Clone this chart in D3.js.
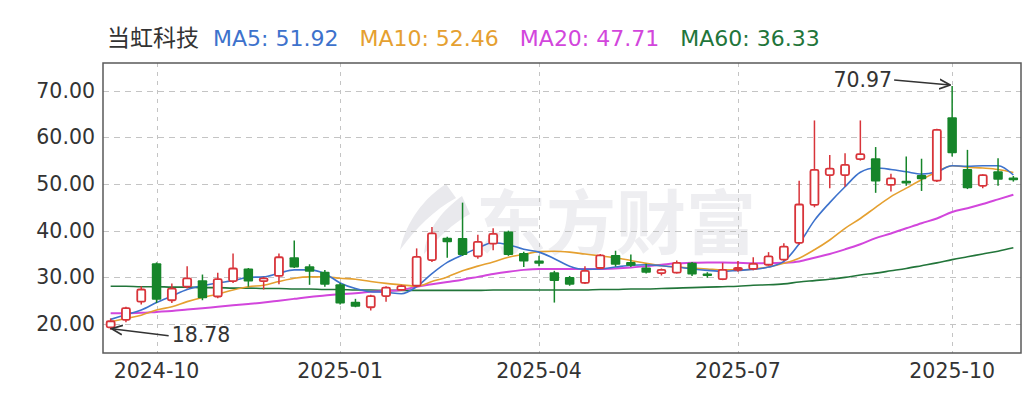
<!DOCTYPE html>
<html>
<head>
<meta charset="utf-8">
<script src="https://cdn.jsdelivr.net/npm/d3@7"></script>
<style>
  body { margin: 0; background: #fff; }
  text { font-family: "DejaVu Sans", sans-serif; }
</style>
</head>
<body>
<script>
// weekly candles, last trading day of each week
const weeks = [
  "2024-09-20","2024-09-27","2024-09-30","2024-10-11","2024-10-18","2024-10-25","2024-11-01","2024-11-08",
  "2024-11-15","2024-11-22","2024-11-29","2024-12-06","2024-12-13","2024-12-20","2024-12-27","2025-01-03",
  "2025-01-10","2025-01-17","2025-01-24","2025-01-27","2025-02-07","2025-02-14","2025-02-21","2025-02-28",
  "2025-03-07","2025-03-14","2025-03-21","2025-03-28","2025-04-03","2025-04-11","2025-04-18","2025-04-25",
  "2025-04-30","2025-05-09","2025-05-16","2025-05-23","2025-05-30","2025-06-06","2025-06-13","2025-06-20",
  "2025-06-27","2025-07-04","2025-07-11","2025-07-18","2025-07-25","2025-08-01","2025-08-08","2025-08-15",
  "2025-08-22","2025-08-29","2025-09-05","2025-09-12","2025-09-19","2025-09-26","2025-09-30","2025-10-10",
  "2025-10-17","2025-10-24","2025-10-31","2025-11-07"
];
const open = [
  19.3,20.9,24.8,33.0,25.1,28.0,29.4,25.9,29.2,31.9,29.2,30.3,34.3,32.4,31.2,28.5,
  24.8,23.6,26.0,27.3,28.2,33.7,38.5,38.4,34.5,37.2,39.8,35.2,33.6,31.1,30.1,28.8,
  32.0,34.8,33.3,32.1,30.9,31.0,33.1,30.8,29.6,31.6,31.8,32.7,33.8,37.4,45.5,51.9,
  51.9,55.3,55.5,49.8,50.7,51.9,50.7,64.3,53.2,49.6,52.7,51.4
];
const high = [
  21.2,23.7,28.1,33.2,28.7,32.4,30.6,31.0,35.1,32.0,30.1,35.1,37.9,32.8,31.6,28.8,
  25.4,26.3,28.1,28.4,36.2,40.8,38.7,46.0,39.1,40.5,40.0,35.5,34.6,31.4,30.3,32.4,
  35.0,35.7,34.9,32.9,31.9,33.6,33.3,31.1,33.1,33.5,34.3,35.4,37.3,50.7,63.6,56.2,
  56.6,63.6,57.9,52.2,55.9,55.4,61.8,70.97,57.3,52.1,55.5,51.7
];
const low = [
  18.78,20.4,24.2,24.5,24.5,27.6,25.1,25.5,28.8,28.0,27.4,28.5,32.0,28.4,28.0,24.2,
  23.6,22.9,24.8,27.1,27.9,33.3,34.2,34.6,34.0,35.8,34.6,32.2,32.4,24.6,28.2,28.6,
  31.8,32.3,32.2,30.8,30.4,30.8,30.3,29.9,29.4,31.2,31.5,32.5,33.5,37.0,45.0,49.1,
  49.4,55.0,48.1,48.4,49.6,48.5,50.4,55.9,48.9,49.1,49.6,50.5
];
const close = [
  20.6,23.4,27.4,25.2,27.6,29.8,25.5,29.6,31.9,29.1,29.8,34.3,32.1,31.2,28.4,24.4,
  23.7,26.0,27.8,28.1,34.4,39.4,37.5,34.8,37.6,39.3,34.8,33.4,32.9,29.2,28.4,31.4,
  34.7,32.7,32.5,31.0,31.6,33.1,30.6,30.3,31.6,32.0,32.9,34.5,36.6,45.6,53.0,53.3,
  54.1,56.4,50.5,51.2,50.1,51.0,61.6,56.6,49.1,51.9,50.9,50.8
];
const ma5 = [
  21.0,22.0,23.0,24.6,26.0,27.4,28.2,28.8,29.3,30.0,30.1,30.9,31.6,31.6,30.8,28.8,
  27.6,26.9,26.8,26.5,28.0,30.8,33.2,34.8,36.3,37.4,37.0,36.0,35.4,34.0,32.4,31.7,
  31.8,32.2,32.6,32.7,32.5,32.2,31.8,31.5,31.3,31.5,31.7,32.2,33.4,37.2,42.2,46.0,
  49.4,52.5,53.4,53.1,52.6,52.1,52.6,53.9,53.8,53.9,53.9,51.92
];
const ma10 = [
  20.5,21.2,21.9,23.0,23.7,24.8,25.7,26.4,27.3,28.0,28.3,29.1,29.8,30.1,30.1,29.8,
  29.6,29.1,28.7,28.4,28.1,29.1,30.1,31.4,32.4,33.3,34.3,34.9,35.5,35.6,35.4,35.0,
  34.6,34.2,33.6,33.0,32.5,32.2,32.0,31.8,31.6,31.6,31.8,32.2,33.0,34.1,35.9,38.0,
  40.5,42.6,45.0,47.3,49.1,50.9,52.6,53.9,53.6,53.4,53.1,52.46
];
const ma20 = [
  22.3,22.3,22.4,22.6,22.8,23.1,23.4,23.7,24.0,24.3,24.6,25.0,25.4,25.8,26.1,26.4,
  26.6,26.9,27.1,27.3,28.0,28.5,29.0,29.5,30.1,30.7,31.2,31.6,31.8,31.8,31.8,31.8,
  31.8,31.9,32.1,32.4,32.7,33.0,33.1,33.2,33.2,33.1,33.0,33.0,33.1,33.4,34.2,35.0,
  36.0,37.1,38.4,39.4,40.5,41.6,42.6,44.0,44.8,45.7,46.7,47.71
];
const ma60 = [
  28.1,28.1,28.0,28.0,27.9,27.9,27.8,27.8,27.7,27.7,27.6,27.6,27.5,27.5,27.4,27.4,
  27.3,27.3,27.2,27.2,27.2,27.2,27.2,27.2,27.2,27.3,27.3,27.3,27.3,27.3,27.3,27.3,
  27.4,27.4,27.5,27.5,27.6,27.7,27.8,27.9,28.0,28.1,28.3,28.4,28.6,29.0,29.3,29.6,
  30.0,30.5,30.9,31.4,31.9,32.5,33.1,33.8,34.4,35.0,35.6,36.33
];
const stockName = "当虹科技";
const maNames = ["MA5", "MA10", "MA20", "MA60"];
const maColors = ["#3d72cc", "#e5a030", "#d246dc", "#22753a"];
const tickLabels = ["2024-10", "2025-01", "2025-04", "2025-07", "2025-10"];
const yTicks = [20, 30, 40, 50, 60, 70];

const upColor = "#d8343a";
const downColor = "#16852a";

const W = 1030, H = 396;
const margin = {top: 63, right: 9, bottom: 43, left: 103};

const svg = d3.select("body").append("svg")
  .attr("width", W)
  .attr("height", H);

const x = d3.scaleBand()
  .domain(weeks)
  .range([margin.left, W - margin.right])
  .paddingInner(0.38)
  .paddingOuter(0.19);

const y = d3.scaleLinear()
  .domain([13.8, 75.9])
  .range([H - margin.bottom, margin.top]);

const cx = (d) => x(d) + x.bandwidth() / 2;

// watermark
const wm = svg.append("g").attr("fill", "#eeeef1");
wm.append("path")
  .attr("d", "M446,184 C424,198 406,222 400,250 C416,228 434,210 456,198 Z M462,196 C440,212 426,232 424,254 C440,236 452,224 470,214 Z")
  .attr("fill", "#e9e9ed");
wm.append("text")
  .attr("x", 476)
  .attr("y", 249)
  .style("font-family", "'Noto Sans CJK SC', sans-serif")
  .style("font-weight", 700)
  .style("font-size", "70px")
  .text("东方财富");

// grid
const grid = svg.append("g")
  .attr("stroke", "#c4c4c4")
  .attr("stroke-width", 1)
  .attr("stroke-dasharray", "6,5");

grid.selectAll(".hg")
  .data(yTicks)
  .enter().append("line")
    .attr("x1", margin.left)
    .attr("x2", W - margin.right)
    .attr("y1", (d) => Math.round(y(d)) + 0.5)
    .attr("y2", (d) => Math.round(y(d)) + 0.5);

const tickWeeks = tickLabels.map((t) => weeks.find((w) => w.startsWith(t)));

grid.selectAll(".vg")
  .data(tickWeeks)
  .enter().append("line")
    .attr("x1", (d) => Math.round(cx(d)) + 0.5)
    .attr("x2", (d) => Math.round(cx(d)) + 0.5)
    .attr("y1", margin.top)
    .attr("y2", H - margin.bottom)
    .attr("stroke-dasharray", "4,5");

// moving averages
const maSeries = [ma60, ma20, ma10, ma5];
const maColorOrder = [maColors[3], maColors[2], maColors[1], maColors[0]];
const maWidths = [1.6, 2, 1.6, 1.6];

const line = d3.line()
  .x((d, i) => cx(weeks[i]))
  .y((d) => y(d))
  .curve(d3.curveMonotoneX);

svg.append("g")
  .selectAll("path")
  .data(maSeries)
  .enter().append("path")
    .attr("d", line)
    .attr("fill", "none")
    .attr("stroke", (d, i) => maColorOrder[i])
    .attr("stroke-width", (d, i) => maWidths[i]);

// candles
const candles = weeks.map((w, i) => ({
  week: w, o: open[i], h: high[i], l: low[i], c: close[i]
}));

const cg = svg.append("g")
  .selectAll("g")
  .data(candles)
  .enter().append("g");

cg.each(function(d) {
  let g = d3.select(this);
  let up = d.c >= d.o;
  let col = up ? upColor : downColor;
  let top = y(Math.max(d.o, d.c));
  let bot = y(Math.min(d.o, d.c));
  let bh = Math.max(bot - top, 1.5);
  let xm = cx(d.week);
  if (up) {
    g.append("line")
      .attr("x1", xm).attr("x2", xm)
      .attr("y1", y(d.h)).attr("y2", top)
      .attr("stroke", col).attr("stroke-width", 1.5);
    g.append("line")
      .attr("x1", xm).attr("x2", xm)
      .attr("y1", top + bh).attr("y2", y(d.l))
      .attr("stroke", col).attr("stroke-width", 1.5);
    g.append("rect")
      .attr("x", x(d.week) + 0.75)
      .attr("y", top)
      .attr("width", x.bandwidth() - 1.5)
      .attr("height", bh)
      .attr("rx", 1.5)
      .attr("fill", "#fff")
      .attr("stroke", col)
      .attr("stroke-width", 1.8);
  } else {
    g.append("line")
      .attr("x1", xm).attr("x2", xm)
      .attr("y1", y(d.h)).attr("y2", y(d.l))
      .attr("stroke", col).attr("stroke-width", 1.5);
    g.append("rect")
      .attr("x", x(d.week))
      .attr("y", top)
      .attr("width", x.bandwidth())
      .attr("height", bh)
      .attr("rx", 1)
      .attr("fill", col);
  }
});

// frame
svg.append("rect")
  .attr("x", margin.left)
  .attr("y", margin.top)
  .attr("width", W - margin.left - margin.right)
  .attr("height", H - margin.top - margin.bottom)
  .attr("fill", "none")
  .attr("stroke", "#5a5a5a")
  .attr("stroke-width", 1.5);

// axes
const yAxis = svg.append("g")
  .attr("transform", `translate(${margin.left},0)`)
  .call(d3.axisLeft(y).tickValues(yTicks).tickFormat(d3.format(".2f")).tickSize(0).tickPadding(8));
yAxis.select(".domain").remove();
yAxis.selectAll("text")
  .style("font-family", "'DejaVu Sans', sans-serif")
  .style("font-size", "20.5px")
  .attr("fill", "#333");

const xAxis = svg.append("g")
  .attr("transform", `translate(0,${H - margin.bottom})`)
  .call(d3.axisBottom(x).tickValues(tickWeeks)
    .tickFormat((d) => tickLabels[tickWeeks.indexOf(d)])
    .tickSize(0).tickPadding(10));
xAxis.select(".domain").remove();
xAxis.selectAll("text")
  .style("font-family", "'DejaVu Sans', sans-serif")
  .style("font-size", "20.5px")
  .attr("fill", "#333");

// max / min annotations
svg.append("defs").append("marker")
  .attr("id", "arr")
  .attr("viewBox", "0 0 10 10")
  .attr("refX", 9).attr("refY", 5)
  .attr("markerWidth", 8).attr("markerHeight", 8)
  .attr("orient", "auto-start-reverse")
  .append("path")
    .attr("d", "M0,1 L9,5 L0,9")
    .attr("fill", "none")
    .attr("stroke", "#333")
    .attr("stroke-width", 1.4);

const iMax = d3.maxIndex(high);
const iMin = d3.minIndex(low);
const hx = cx(weeks[iMax]), hy = y(high[iMax]);
const lx = cx(weeks[iMin]), ly = y(low[iMin]);

svg.append("line")
  .attr("x1", hx - 58).attr("y1", hy - 6)
  .attr("x2", hx - 2).attr("y2", hy - 1)
  .attr("stroke", "#333").attr("stroke-width", 1.5)
  .attr("marker-end", "url(#arr)");
svg.append("text")
  .attr("x", hx - 60).attr("y", hy + 1)
  .attr("text-anchor", "end")
  .style("font-size", "20.5px")
  .attr("fill", "#333")
  .text(high[iMax].toFixed(2));

svg.append("line")
  .attr("x1", lx + 58).attr("y1", ly + 6)
  .attr("x2", lx + 1).attr("y2", ly - 1)
  .attr("stroke", "#333").attr("stroke-width", 1.5)
  .attr("marker-end", "url(#arr)");
svg.append("text")
  .attr("x", lx + 61).attr("y", ly + 12)
  .style("font-size", "20.5px")
  .attr("fill", "#333")
  .text(low[iMin].toFixed(2));

// legend
const legend = svg.append("g");
let lxPos = 107;
const title = legend.append("text")
  .attr("x", lxPos).attr("y", 46)
  .style("font-family", "'Noto Sans CJK SC', sans-serif")
  .style("font-size", "23px")
  .attr("fill", "#333")
  .text(stockName);
lxPos += title.node().getComputedTextLength() + 14;

const lastVals = [ma5, ma10, ma20, ma60].map((s) => s[s.length - 1]);
maNames.forEach((n, i) => {
  let t = legend.append("text")
    .attr("x", lxPos).attr("y", 46)
    .style("font-size", "22px")
    .attr("fill", maColors[i])
    .text(n + ": " + lastVals[i].toFixed(2));
  lxPos += t.node().getComputedTextLength() + 21;
});
</script>
</body>
</html>
